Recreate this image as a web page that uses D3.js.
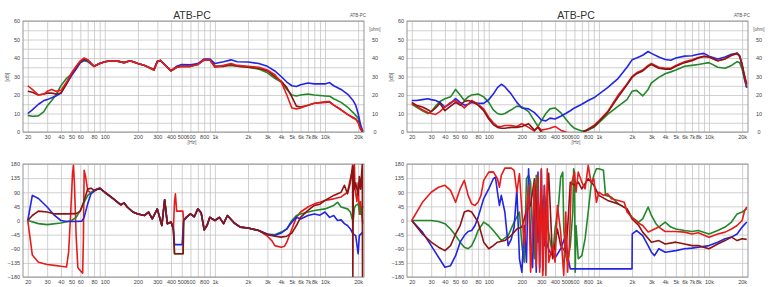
<!DOCTYPE html>
<html>
<head>
<meta charset="utf-8">
<script src="https://cdn.jsdelivr.net/npm/d3@7"></script>
<style>
  body { margin: 0; background: #fff; }
  svg { display: block; font-family: "Liberation Sans", Arial, sans-serif; }
</style>
</head>
<body>
<svg id="chart" width="768" height="287"></svg>
<script>
// --- Data: SPL (dB) top-left ---
const fqSplL = [20, 22, 25, 28, 30, 33, 36, 40, 45, 50, 55, 60, 65, 70, 80, 90, 100, 115, 130, 150, 170, 200, 230, 260, 280, 300, 320, 350, 400, 450, 500, 600, 700, 800, 900, 1000, 1200, 1400, 1600, 2000, 2500, 3000, 3500, 4000, 4500, 5000, 5500, 6000, 7000, 8000, 10000, 11000, 12000, 14000, 16000, 18000, 19000, 20000, 21000, 22000];
const splBlueL = [10, 12, 15, 17, 17.5, 18.5, 19.5, 21, 26, 30.5, 34, 37.5, 39, 38.5, 35.5, 37, 38, 38.5, 38.4, 37.5, 38.5, 37, 36, 34.5, 34, 38.3, 38.7, 36.5, 33.2, 35.5, 36.5, 36.3, 37, 39.5, 39.5, 37, 38, 39, 38, 37.8, 37, 35.5, 33, 30, 27, 25, 24.6, 25.5, 26.5, 26, 26, 26.7, 25, 23, 20.5, 17, 14.5, 10, 4, 0.5];
const splRedL = [25, 23, 20, 20.5, 22, 23, 22, 22.5, 27, 32, 35.5, 38.5, 40, 39, 35.5, 37, 38, 38.5, 38.3, 37.5, 38.5, 37, 36, 34.5, 33.5, 38, 38.7, 36.5, 33, 35, 35.5, 35.5, 36.5, 39, 39, 35, 36, 37, 36, 35.5, 35, 33.5, 31, 27, 20, 13, 12.5, 13, 14.5, 15.5, 16.3, 16.5, 14.5, 12, 9.5, 7.5, 7, 5, 2, 0.2];
const splDarkL = [22, 21.5, 20, 20.5, 21, 21, 20.5, 21, 26, 31.5, 35, 38, 39.5, 39, 35.5, 37, 38, 38.5, 38.3, 37.5, 38.5, 37, 36, 34.5, 33.5, 38, 38.7, 36.5, 33, 35, 35.5, 35.5, 36.5, 39, 39, 35.5, 35.5, 36.5, 35.5, 35, 34.5, 33, 30, 27.5, 24, 19, 14, 13.5, 14.5, 15.5, 16, 16.2, 14.5, 12, 9.5, 7.8, 7, 5.5, 1.5, 0];
const splGreenL = [9, 8.5, 8.7, 11, 14, 17, 20, 25, 29, 31.5, 34.5, 37.5, 38.5, 38, 35.5, 37, 38, 38.5, 38.3, 37.5, 38.5, 37, 36, 34.5, 33.5, 38, 38.7, 36.5, 33, 35, 35.5, 35.5, 36.5, 39, 39, 35.5, 35.5, 36, 35.5, 35, 34, 32, 29, 27, 23, 20, 19.5, 20, 20.5, 20, 19.5, 19.3, 18, 16, 13.5, 10.5, 9, 7.5, 3, 0.5];

// --- Data: SPL (dB) top-right ---
const fqSplR = [20, 22, 25, 28, 30, 33, 36, 40, 45, 50, 55, 60, 65, 70, 80, 90, 100, 110, 120, 130, 140, 160, 180, 200, 230, 260, 280, 300, 330, 360, 400, 450, 500, 550, 600, 700, 800, 900, 1000, 1200, 1500, 1800, 2000, 2200, 2500, 2800, 3000, 3500, 4000, 4500, 5000, 6000, 7000, 8000, 9000, 10000, 12000, 14000, 16000, 18000, 19000, 20000, 21000, 22000];
const splBlueR = [17, 17, 17.5, 18, 17.5, 17, 16, 13.5, 15.5, 18, 16, 14.5, 15, 16, 15.5, 15.5, 17.5, 20.5, 24, 25.8, 24.5, 20.5, 16, 13, 12.5, 10.5, 8.5, 6.5, 6, 7.5, 7, 8.5, 10, 11.5, 13, 15, 17, 18.5, 20.5, 24, 29, 35, 39, 40, 41.5, 43.5, 42.5, 40.5, 39.2, 38.8, 40, 41, 41.2, 42, 42.5, 41, 39.5, 40.5, 42, 42.5, 41, 36, 29, 24];
const splRedR = [15.5, 14, 12, 10.5, 10, 9.5, 11, 13.5, 16, 17, 15, 13, 15, 17, 15, 12.5, 8, 5, 3, 3, 3.5, 3.5, 3, 4.5, 2.5, 0.5, 3, 1, 1.5, 2, 3, 1, 0, -2, -3, -1, 1.5, 3.5, 6, 11, 20, 26, 30, 32, 33.5, 36, 37, 35, 34.5, 34.5, 36, 38, 39, 40.2, 41, 40.5, 38.5, 39.5, 41.5, 42.5, 41, 36, 30, 25];
const splDarkR = [16, 14.5, 13.5, 12, 11, 13, 15.5, 11.5, 14, 16, 14.5, 16.5, 17, 16.5, 14.5, 11.5, 7, 4, 2.5, 2, 2, 2.5, 2.5, 3, 4.5, 1, 2.5, 0, -1, -2, -3, -3, -3, -3, -2, -0.5, 1.5, 3, 5.5, 10.5, 19, 25.5, 29.5, 31.5, 33, 35.5, 36.5, 34.5, 34, 34, 35.5, 37.5, 38.5, 40, 40.8, 40.5, 38.5, 39.5, 41.5, 42.5, 41, 36.5, 30.5, 26];
const splGreenR = [15, 13.5, 11.5, 10, 11, 14, 16.5, 18, 19, 23, 20, 17, 19, 20, 20.5, 19, 16, 12, 10, 9.5, 10, 12, 14, 13.5, 11, 6, 3, 6, 10, 12.5, 13, 10.5, 7, 4, 2, 0.5, 1, 2.5, 5, 9.5, 14, 17.5, 22, 22.5, 19.5, 23, 26.5, 29.5, 31.5, 32.5, 33.5, 35.5, 36, 36.5, 37, 37.5, 35, 34.5, 36, 38, 37.5, 34, 28.5, 24];

// --- Data: phase (deg) bottom-left, [freq, deg] ---
const phCommonL1 = [[90, 103], [100, 90], [120, 69], [140, 50], [150, 56], [160, 43], [180, 27], [200, 21], [230, 16], [250, 27], [270, 5], [300, 37], [330, -16], [350, 66], [370, -10], [400, -5], [420, -27]];
const phCommonL2 = [[520, 0], [550, 10], [600, 21], [650, 12], [700, 37], [750, 25], [800, -30], [850, -15], [900, 10], [1000, 0], [1100, 10], [1200, -10], [1300, 16], [1500, -8], [1700, -21], [2000, -24], [2500, -32]];
const phBlueLowL = [[20, 0], [22, 80], [25, 70], [30, 43], [35, 16], [40, 0], [45, -3], [55, -3], [62, -2], [65, 10], [70, 53], [75, 85], [80, 93]];
const phBlueMidL = [[430, -77], [505, -77]];
const phBlueHighL = [[3000, -43], [3500, -48], [4000, -40], [4500, -27], [5000, -5], [5500, 10], [6000, 5], [7000, 16], [8000, 21], [9000, 17], [10000, 27], [11000, 10], [12000, 16], [13000, 0], [14000, 2], [15000, -10], [16000, -16], [17000, -27], [18000, -43], [19000, -48], [20000, -106], [20500, -48], [22000, -37]];
const phRedLowL = [[20, 0], [22, -110], [25, -133], [30, -140], [35, -143], [40, -146], [45, -148], [47, -100], [49, 20], [51, 150], [52, 176], [53, 120], [55, -50], [57, -150], [60, -160], [63, -168], [64, -60], [65, 160], [67, 140], [70, 95], [75, 88], [80, 96]];
const phRedMidL = [[430, 60], [438, 85], [450, 30], [512, 30]];
const phRedHighL = [[3000, -50], [3300, -65], [3500, -80], [4000, -85], [4300, -82], [4500, -69], [5000, -27], [5500, 10], [6000, 27], [7000, 43], [8000, 53], [9000, 58], [10000, 64], [12000, 69], [14000, 75], [16000, 90], [17000, 133], [18000, 165], [18500, 180], [18700, 100], [19500, 60], [20000, 120], [20500, 20], [21000, 60], [22000, -10]];
const phDarkLowL = [[20, 0], [22, 16], [25, 30], [30, 27], [35, 21], [45, 21], [55, 22], [60, 30], [65, 64], [70, 100], [75, 103], [80, 96]];
const phDarkMidL = [[430, -106], [515, -106]];
const phDarkHighL = [[3000, -45], [3500, -50], [4000, -53], [4500, -50], [5000, -40], [5500, -16], [6000, 10], [7000, 32], [8000, 48], [9000, 52], [10000, 64], [12000, 80], [14000, 90], [15000, 112], [16000, 85], [17000, 122], [17800, 176], [17900, -178], [18100, 170], [18500, 100], [19000, 120], [20000, 80], [20500, 140], [21000, 100], [21800, 178], [21900, -178], [22100, -178]];
const phGreenLowL = [[20, 0], [25, -10], [30, -13], [40, -8], [50, 0], [55, 10], [60, 32], [65, 58], [70, 80], [80, 96]];
const phGreenMidL = [[430, -106], [515, -106]];
const phGreenHighL = [[3000, -45], [3500, -45], [4000, -37], [4500, -27], [5000, 0], [5500, 16], [6000, 21], [7000, 27], [8000, 32], [10000, 37], [12000, 48], [13000, 58], [14000, 43], [16000, 37], [17000, 27], [18000, -5], [18500, 40], [19000, 48], [20000, 53], [21000, 20], [22000, 45]];

// --- Data: phase (deg) bottom-right, [freq, deg] ---
const phBlueR = [[20, 0], [25, -37], [30, -80], [35, -117], [40, -149], [45, -144], [50, -112], [55, -69], [60, -48], [65, -35], [70, -32], [75, -16], [80, 10], [90, 70], [100, 101], [110, 133], [115, 138], [120, 90], [125, 48], [130, 80], [140, 27], [150, -80], [160, -60], [170, -21], [180, 101], [190, -122], [200, -165], [210, -16], [220, -133], [230, 165], [240, -80], [250, -150], [260, 110], [270, -165], [280, 154], [290, -150], [300, 160], [310, -160], [320, 110], [330, -50], [340, -80], [360, -101], [400, -120], [450, -90], [500, -48], [520, -112], [550, -154], [2000, -154], [2010, -43], [2200, -32], [2500, -48], [2800, -80], [3000, -101], [3200, -112], [3500, -90], [4000, -101], [5000, -96], [6000, -90], [7000, -88], [8000, -85], [10000, -80], [12000, -69], [14000, -58], [16000, -53], [18000, -43], [20000, -21], [22000, -5]];
const phRedR = [[20, 0], [25, 58], [30, 90], [35, 106], [40, 112], [45, 96], [50, 58], [55, 101], [60, 128], [65, 80], [70, 53], [75, 48], [80, 58], [85, 80], [90, 128], [100, 154], [110, 155], [120, 133], [125, 106], [130, 144], [140, 167], [160, 167], [170, 160], [180, 90], [190, 149], [200, 27], [210, -80], [220, 27], [230, 112], [240, -165], [250, -27], [260, 122], [270, -144], [280, 144], [290, -165], [300, 165], [310, -175], [320, 112], [330, -175], [340, 165], [350, -133], [380, -80], [400, -133], [420, 48], [450, -37], [480, -175], [500, 27], [520, -165], [540, -80], [560, 112], [580, 133], [600, 154], [620, 90], [650, 154], [700, 122], [750, 101], [800, 176], [850, 120], [900, 133], [950, 58], [1000, 90], [1100, 80], [1200, 85], [1300, 69], [1500, 64], [1700, 58], [1800, 27], [2000, 10], [2200, -5], [2500, -16], [2800, -37], [3000, -32], [3500, -21], [4000, -35], [5000, -35], [6000, -37], [7000, -43], [8000, -39], [10000, -53], [12000, -43], [14000, -37], [16000, -27], [18000, -16], [20000, 0], [21000, 30], [22000, 43]];
const phDarkR = [[20, 0], [25, -43], [30, -69], [35, -85], [40, -96], [45, -80], [50, -43], [55, -16], [60, 27], [65, 32], [70, 27], [80, -5], [90, -69], [100, -90], [110, -80], [120, -69], [140, -64], [160, -48], [180, -27], [200, -21], [220, 30], [240, 48], [260, 133], [280, -48], [300, 80], [320, -80], [350, 150], [380, -122], [420, -27], [450, -80], [500, -101], [520, -27], [550, 122], [600, 112], [650, 122], [700, 101], [800, 133], [900, 112], [1000, 80], [1200, 64], [1500, 53], [1800, 37], [2000, 5], [2300, -16], [2500, -37], [3000, -69], [3500, -64], [4000, -75], [5000, -69], [6000, -75], [7000, -80], [8000, -80], [10000, -90], [12000, -75], [14000, -64], [16000, -53], [18000, -64], [20000, -58], [22000, -60]];
const phGreenR = [[20, 0], [30, 0], [35, -3], [40, -10], [45, -27], [50, -48], [55, -69], [60, -85], [65, -90], [70, -80], [75, -58], [80, -32], [90, -5], [100, -16], [110, -32], [120, -48], [130, -64], [150, -48], [170, -5], [190, 27], [200, -80], [210, -133], [220, 133], [230, 144], [240, 122], [250, -58], [260, -122], [270, 144], [280, -69], [300, 27], [320, 80], [350, -37], [380, -112], [400, -27], [430, 48], [450, 138], [470, 154], [480, -27], [500, -112], [520, -133], [550, -80], [580, 27], [590, 165], [600, 154], [610, -165], [620, -16], [650, -122], [700, -112], [750, -58], [800, 27], [850, 112], [900, 144], [950, 165], [1000, 165], [1100, 160], [1150, 80], [1300, 75], [1500, 53], [1800, 37], [2000, 10], [2300, -5], [2500, 5], [2800, 43], [3000, 16], [3300, -10], [3500, -21], [4000, -5], [4500, -21], [5000, -27], [6000, -32], [7000, -35], [8000, -32], [10000, -43], [12000, -32], [14000, -21], [16000, -5], [18000, 21], [20000, 27], [22000, 37]];

// --- Axis ticks ---
const freqTicks = [20, 30, 40, 50, 60, 80, 100, 200, 300, 400, 500, 600, 800, 1000, 2000, 3000, 4000, 5000, 6000, 7000, 8000, 10000, 20000];
const freqGrid = [20, 30, 40, 50, 60, 70, 80, 90, 100, 200, 300, 400, 500, 600, 700, 800, 900, 1000, 2000, 3000, 4000, 5000, 6000, 7000, 8000, 9000, 10000, 20000];
const dbTicks = [0, 10, 20, 30, 40, 50, 60];
const dbGrid = d3.range(0, 61, 5);
const ohmTicks = [0, 10, 20, 30, 40, 50];
const degTicks = [-180, -135, -90, -45, 0, 45, 90, 135, 180];

const colors = { blue: "#2424e6", red: "#e61c1c", dark: "#8c1414", green: "#23872a" };

const svg = d3.select("#chart");
const fmtHz = (d) => (d >= 1000 ? d / 1000 + "k" : "" + d);
let clipId = 0;

function drawFrame(left, top, bottom, yDomain, yTicks, yGrid) {
  const right = left + 341;
  const x = d3.scaleLog().domain([18.1, 22600]).range([left, right]);
  const y = d3.scaleLinear().domain(yDomain).range([bottom, top]);
  const g = svg.append("g");

  // grid
  g.append("g")
    .attr("transform", `translate(0,${bottom})`)
    .call(d3.axisBottom(x).tickValues(freqGrid).tickSize(-(bottom - top)).tickFormat(""))
    .call((a) => a.select(".domain").remove())
    .call((a) => a.selectAll("line").attr("stroke", "#c4c4c4").attr("stroke-width", 0.8));
  g.append("g")
    .attr("transform", `translate(${left},0)`)
    .call(d3.axisLeft(y).tickValues(yGrid).tickSize(-(right - left)).tickFormat(""))
    .call((a) => a.select(".domain").remove())
    .call((a) => a.selectAll("line").attr("stroke", "#c4c4c4").attr("stroke-width", 0.8));

  // tick labels
  g.append("g")
    .attr("transform", `translate(0,${bottom})`)
    .call(d3.axisBottom(x).tickValues(freqTicks).tickSize(0).tickPadding(3).tickFormat(fmtHz))
    .call((a) => a.select(".domain").remove())
    .call((a) => a.selectAll("text").attr("font-size", 5.5).attr("fill", "#444"));
  g.append("g")
    .attr("transform", `translate(${left},0)`)
    .call(d3.axisLeft(y).tickValues(yTicks).tickSize(0).tickPadding(3))
    .call((a) => a.select(".domain").remove())
    .call((a) => a.selectAll("text").attr("font-size", 5.5).attr("fill", "#444"));

  g.append("rect")
    .attr("x", left).attr("y", top)
    .attr("width", right - left).attr("height", bottom - top)
    .attr("fill", "none").attr("stroke", "#8a8a8a").attr("stroke-width", 0.9);

  const id = "clip" + clipId++;
  svg.append("clipPath").attr("id", id)
    .append("rect").attr("x", left).attr("y", top)
    .attr("width", right - left).attr("height", bottom - top);
  const plot = svg.append("g").attr("clip-path", `url(#${id})`);
  return { x, y, g, plot, left, right, top, bottom };
}

function drawCurve(p, pts, color) {
  const line = d3.line().x((d) => p.x(d[0])).y((d) => p.y(d[1]));
  p.plot.append("path")
    .datum(pts)
    .attr("fill", "none")
    .attr("stroke", color)
    .attr("stroke-width", 1.6)
    .attr("stroke-linejoin", "round")
    .attr("d", line);
}

function splPanel(left, fq, series) {
  const p = drawFrame(left, 21, 132, [0, 60], dbTicks, dbGrid);
  p.g.append("text").attr("x", left + 169).attr("y", 19)
    .attr("text-anchor", "middle").attr("font-size", 10.5).attr("fill", "#333").text("ATB-PC");
  p.g.append("text").attr("x", left + 335).attr("y", 17)
    .attr("text-anchor", "middle").attr("font-size", 4.5).attr("fill", "#555").text("ATB-PC");
  p.g.append("text").attr("x", left + 169).attr("y", 144)
    .attr("text-anchor", "middle").attr("font-size", 5).attr("fill", "#555").text("[Hz]");
  p.g.append("text")
    .attr("transform", `translate(${left - 14},77) rotate(-90)`)
    .attr("text-anchor", "middle").attr("font-size", 5).attr("fill", "#555").text("[dB]");
  // right axis (impedance)
  const yo = d3.scaleLinear().domain([0, 60]).range([132, 21]);
  p.g.append("g")
    .attr("transform", `translate(${left + 352},0)`)
    .call(d3.axisRight(yo).tickValues(ohmTicks).tickSize(0).tickPadding(0))
    .call((a) => a.select(".domain").remove())
    .call((a) => a.selectAll("text").attr("font-size", 5.5).attr("fill", "#444").attr("text-anchor", "middle"));
  p.g.append("text").attr("x", left + 352).attr("y", 31)
    .attr("text-anchor", "middle").attr("font-size", 4.5).attr("fill", "#555").text("[ohm]");
  series.forEach(([vals, c]) => drawCurve(p, fq.map((f, i) => [f, vals[i]]), c));
}

function phasePanel(left, series) {
  const p = drawFrame(left, 164, 277, [-180, 180], degTicks, degTicks);
  series.forEach(([pts, c]) => drawCurve(p, pts, c));
}

splPanel(23, fqSplL, [
  [splGreenL, colors.green],
  [splBlueL, colors.blue],
  [splDarkL, colors.dark],
  [splRedL, colors.red],
]);
splPanel(407, fqSplR, [
  [splGreenR, colors.green],
  [splBlueR, colors.blue],
  [splRedR, colors.red],
  [splDarkR, colors.dark],
]);

phasePanel(23, [
  [[...phRedLowL, ...phCommonL1, ...phRedMidL, ...phCommonL2, ...phRedHighL], colors.red],
  [[...phGreenLowL, ...phCommonL1, ...phGreenMidL, ...phCommonL2, ...phGreenHighL], colors.green],
  [[...phBlueLowL, ...phCommonL1, ...phBlueMidL, ...phCommonL2, ...phBlueHighL], colors.blue],
  [[...phDarkLowL, ...phCommonL1, ...phDarkMidL, ...phCommonL2, ...phDarkHighL], colors.dark],
]);
phasePanel(407, [
  [phGreenR, colors.green],
  [phBlueR, colors.blue],
  [phDarkR, colors.dark],
  [phRedR, colors.red],
]);
</script>
</body>
</html>
